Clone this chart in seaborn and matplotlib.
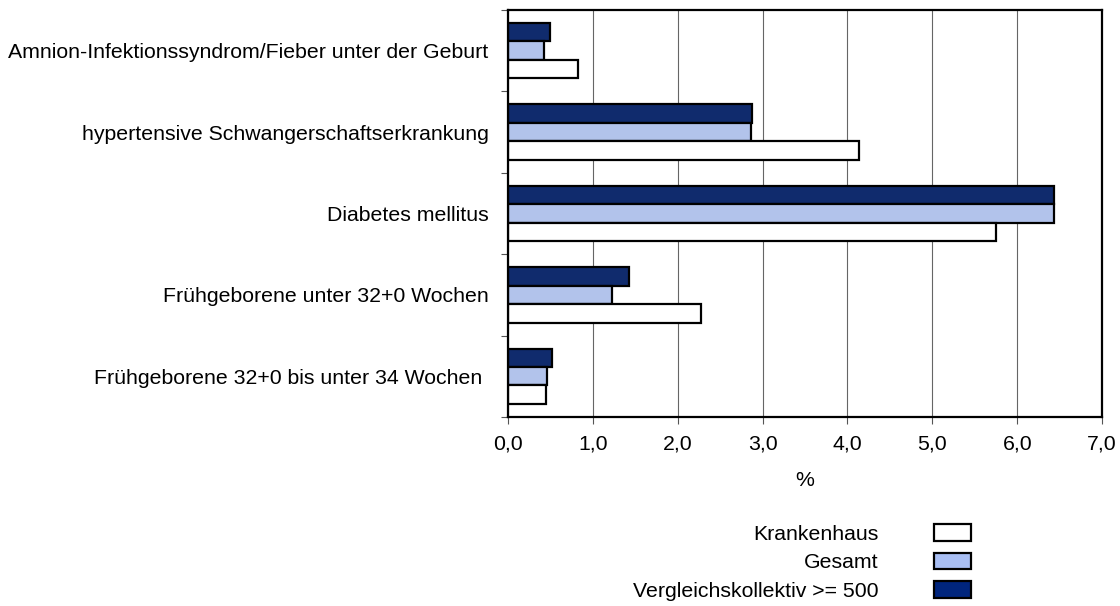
import pandas as pd
import seaborn as sns
import matplotlib.pyplot as plt
import matplotlib.patches as mpatches

# --- DATOS ---
kategorien = [
    "Amnion-Infektionssyndrom/Fieber unter der Geburt",
    "hypertensive Schwangerschaftserkrankung",
    "Diabetes mellitus",
    "Frühgeborene unter 32+0 Wochen",
    "Frühgeborene 32+0 bis unter 34 Wochen ",
]
serien = ["Krankenhaus", "Gesamt", "Vergleichskollektiv >= 500"]
krankenhaus = [0.82, 4.13, 5.75, 2.27, 0.45]
gesamt = [0.42, 2.86, 6.43, 1.23, 0.46]
vergleich = [0.50, 2.88, 6.43, 1.43, 0.52]
x_ticks = [0, 1, 2, 3, 4, 5, 6, 7]
farben = {"Krankenhaus": "#FFFFFF", "Gesamt": "#A9BFF4", "Vergleichskollektiv >= 500": "#00257D"}

df = pd.DataFrame({
    "Kategorie": kategorien * 3,
    "Serie": [serien[0]] * 5 + [serien[1]] * 5 + [serien[2]] * 5,
    "Wert": krankenhaus + gesamt + vergleich,
})

sns.set_style("white")
plt.rcParams['font.family'] = ['Liberation Sans', 'DejaVu Sans']
plt.rcParams['text.color'] = 'black'
plt.rcParams['xtick.color'] = 'black'
plt.rcParams['ytick.color'] = 'black'
plt.rcParams['axes.labelcolor'] = 'black'

fig = plt.figure(figsize=(11.2, 6.06), dpi=100)
ax = fig.add_axes([0.4536, 0.312, 0.5304, 0.6715])

# orden de arriba a abajo dentro de cada grupo
reihenfolge = [serien[2], serien[1], serien[0]]
sns.barplot(data=df, y="Kategorie", x="Wert", hue="Serie", hue_order=reihenfolge,
            order=kategorien, palette=farben, orient="h", width=0.68,
            edgecolor="black", linewidth=1.6, legend=False, ax=ax)

fs = 15.3
ax.set_xlim(0, 7)
ax.set_xticks(x_ticks)
ax.set_xticklabels([f"{v:.1f}".replace(".", ",") for v in x_ticks], fontsize=fs)
ax.set_ylim(len(kategorien) - 0.5, -0.5)
ax.set_yticks(range(len(kategorien)))
ax.set_yticklabels(kategorien, fontsize=fs)
ax.set_yticks([i - 0.5 for i in range(len(kategorien) + 1)], minor=True)
ax.tick_params(axis="y", which="major", length=0, pad=14)
ax.tick_params(axis="y", which="minor", length=5, width=0.8, color="#555555", left=True)
ax.tick_params(axis="x", which="major", length=5, width=0.8, color="#555555", bottom=True, pad=8)
ax.set_xlabel("%", fontsize=fs, labelpad=12)
ax.set_ylabel("")
ax.xaxis.grid(True, color="#666666", linewidth=0.8)
ax.set_axisbelow(True)
for s in ax.spines.values():
    s.set_color("black")
    s.set_linewidth(1.6)

handles = [mpatches.Patch(facecolor=farben[s], edgecolor="black", linewidth=1.6) for s in serien]
fig.legend(handles, serien, loc="upper right", bbox_to_anchor=(0.867, 0.1345),
           frameon=False, markerfirst=False, fontsize=fs, handlelength=1.75,
           handleheight=0.82, labelspacing=0.41, handletextpad=2.6,
           borderpad=0, borderaxespad=0)

plt.savefig("out.png", dpi=100)
plt.close()
